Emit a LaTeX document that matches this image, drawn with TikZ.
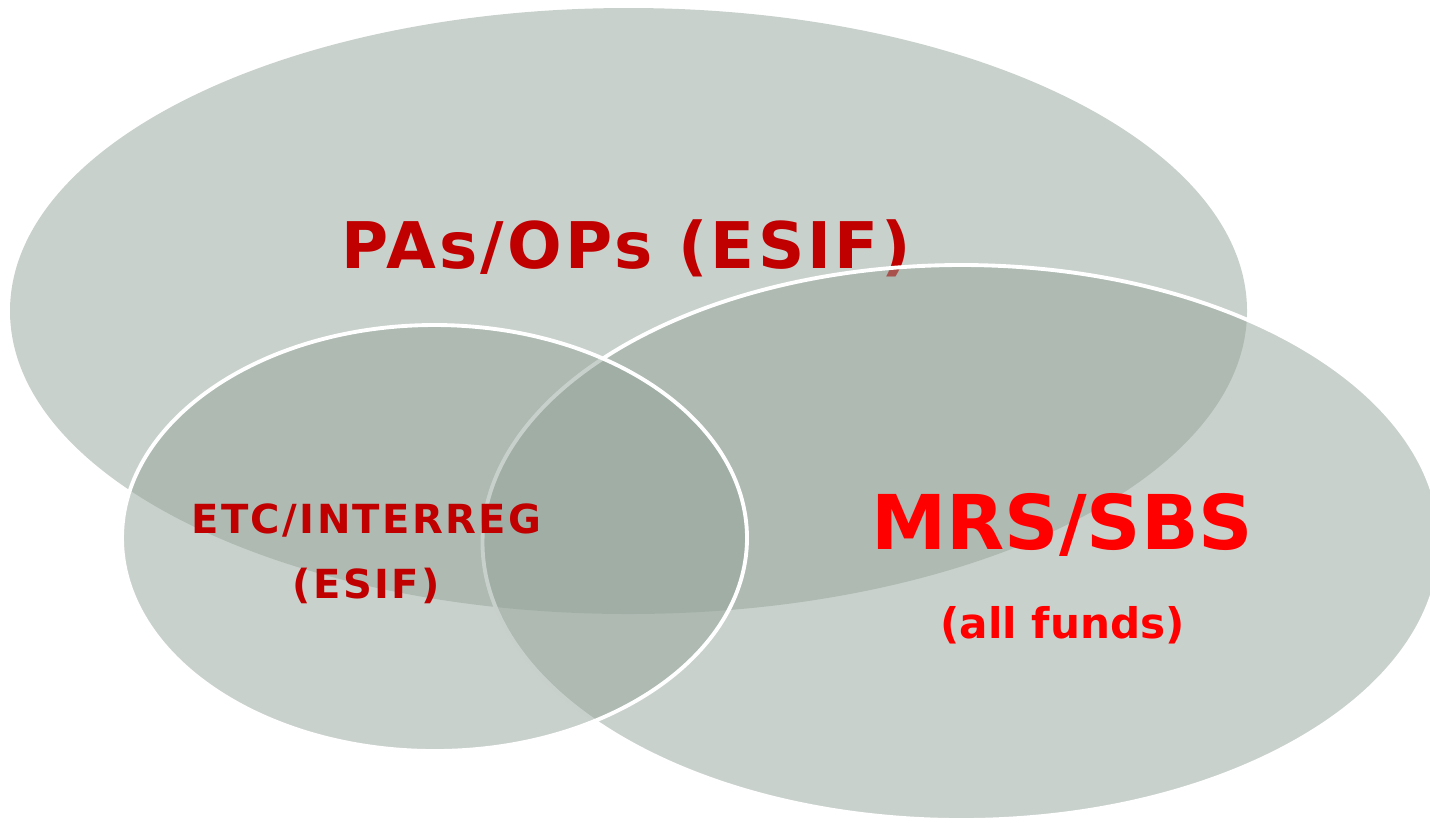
\documentclass[tikz,border=0pt]{standalone}
\usepackage{fontspec}
\setmainfont{DejaVu Sans}
\usetikzlibrary{positioning}
\definecolor{sagegray}{RGB}{147,163,153}
\definecolor{darkred}{RGB}{192,0,0}
\definecolor{brightred}{RGB}{255,0,0}
\tikzset{
  setblob/.style={fill=sagegray, fill opacity=0.5},
  setedge/.style={draw=white, line width=1.1pt},
  setlabel/.style={font=\bfseries, align=center, inner sep=0pt}
}

\begin{document}
\begin{tikzpicture}
  \useasboundingbox (0,0) rectangle (14.3,-8.22);
  % programmes of the funds
  \fill[setblob] (6.285,-3.11) ellipse [x radius=6.185cm, y radius=3.03cm];
  \node[setlabel, text=darkred, font=\bfseries\fontsize{18.3}{22}\selectfont\addfontfeature{LetterSpace=5}] (paop) at (6.265,-2.48) {PAs/OPs (ESIF)};
  % macro-regional strategies
  \draw[setblob, setedge] (9.615,-5.425) ellipse [x radius=4.79cm, y radius=2.775cm];
  % cooperation
  \draw[setblob, setedge] (4.345,-5.38) ellipse [x radius=3.125cm, y radius=2.13cm];
  \node[setlabel, text=darkred, font=\bfseries\fontsize{11.4}{18.5}\selectfont\addfontfeature{LetterSpace=6}] (etc) at (3.665,-5.54) {ETC/INTERREG\\(ESIF)};
  \node[setlabel, text=brightred, font=\bfseries\fontsize{21.5}{26}\selectfont] (mrs) at (10.625,-5.245) {MRS/SBS};
  \node[setlabel, text=brightred, font=\bfseries\fontsize{12}{14}\selectfont, below=0.49cm of mrs] (funds) {(all funds)};
\end{tikzpicture}
\end{document}
